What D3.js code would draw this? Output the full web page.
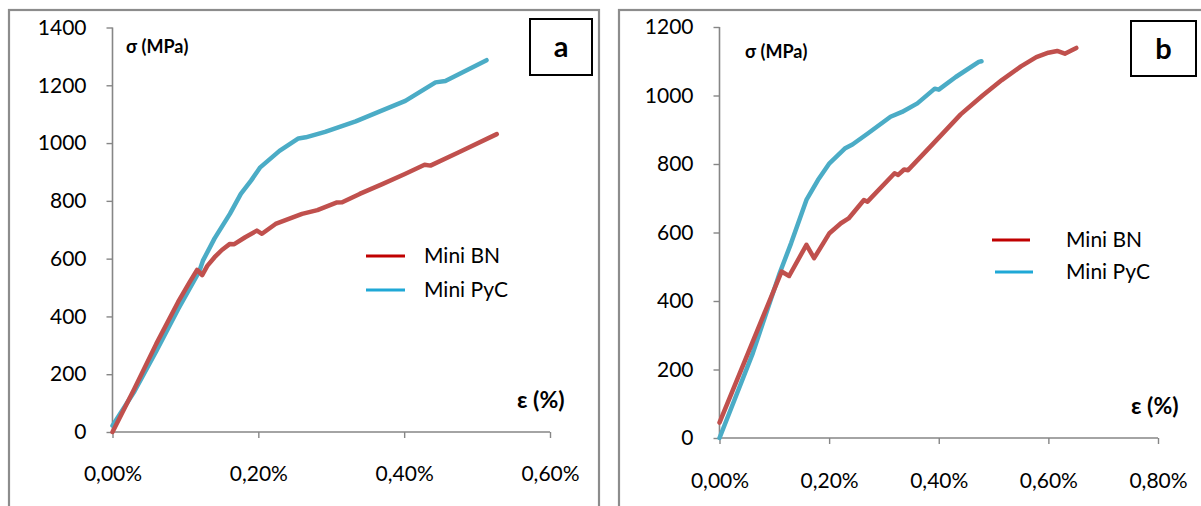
<!DOCTYPE html>
<html><head><meta charset="utf-8">
<script src="https://cdn.jsdelivr.net/npm/d3@7"></script>
<style>
html,body{margin:0;padding:0;background:#fff;}
svg{display:block;font-family:Lato,"Open Sans",sans-serif;}
</style></head>
<body>
<svg id="chart" width="1201" height="506"></svg>
<script>
// ---------- DATA ----------
const seriesNames = ["Mini BN", "Mini PyC"];
const yTicksA = [0, 200, 400, 600, 800, 1000, 1200, 1400];
const xTicksA = [0, 0.2, 0.4, 0.6];
const xTickLabelsA = ["0,00%", "0,20%", "0,40%", "0,60%"];
const yTicksB = [0, 200, 400, 600, 800, 1000, 1200];
const xTicksB = [0, 0.2, 0.4, 0.6, 0.8];
const xTickLabelsB = ["0,00%", "0,20%", "0,40%", "0,60%", "0,80%"];

// panel a  [strain %, stress MPa]
const aBN = [[0,0],[0.03,150],[0.06,305],[0.09,450],[0.105,515],[0.116,561],[0.123,543],[0.13,575],[0.14,605],[0.15,630],[0.161,651],[0.167,650],[0.182,674],[0.198,697],[0.205,686],[0.2236,720],[0.26,755],[0.281,768],[0.307,794],[0.315,795],[0.339,824],[0.37,858],[0.401,893],[0.428,925],[0.436,922],[0.475,968],[0.527,1031]];
const aPyC = [[0,22],[0.03,140],[0.06,280],[0.09,425],[0.1188,555],[0.124,593],[0.14,670],[0.161,755],[0.176,824],[0.19,870],[0.2026,916],[0.229,973],[0.255,1016],[0.265,1020],[0.2916,1039],[0.3335,1075],[0.365,1108],[0.4016,1146],[0.443,1210],[0.4565,1215],[0.513,1287]];
// panel b
const bBN = [[0,45],[0.1132,486],[0.127,473],[0.1586,564],[0.1726,525],[0.2006,598],[0.2215,627],[0.2355,641],[0.2635,695],[0.27,690],[0.3194,773],[0.326,768],[0.3368,784],[0.344,782],[0.389,858],[0.44,945],[0.48,1000],[0.515,1045],[0.55,1085],[0.578,1112],[0.6,1125],[0.616,1130],[0.63,1122],[0.651,1139]];
const bPyC = [[0,0],[0.0608,248],[0.1097,481],[0.1307,569],[0.1586,695],[0.1796,753],[0.2006,802],[0.2285,845],[0.2425,857],[0.2705,889],[0.312,938],[0.333,952],[0.361,977],[0.3927,1020],[0.40,1017],[0.431,1054],[0.473,1098],[0.478,1100]];

// ---------- STYLE ----------
const lineColors = ["#c0504d", "#4bacc6"];
const legendColors = ["#c00000", "#1fa8d6"];
const axisColor = "#868686";
const frameColor = "#8c8c8c";

const svg = d3.select("#chart");

const panels = [
  {frame:[9,10,590,520], xr:[112.5,550], yr:[432,27.5], xmax:0.6, ymax:1400,
   yTicks:yTicksA, xTicks:xTicksA, xLabels:xTickLabelsA, series:[aBN,aPyC],
   sigma:[126,53], eps:[517,408], box:[530,19,62,56], letter:"a",
   legend:{x1:366,x2:405,ys:[256,290],tx:424}, xLabelY:481},
  {frame:[619,10,600,520], xr:[719.5,1158], yr:[438,27], xmax:0.8, ymax:1200,
   yTicks:yTicksB, xTicks:xTicksB, xLabels:xTickLabelsB, series:[bBN,bPyC],
   sigma:[745,58], eps:[1131,414], box:[1131,21,65,55], letter:"b",
   legend:{x1:[992,995],x2:[1030,1033],ys:[240,272],tx:1066}, xLabelY:488}
];

panels.forEach(p => {
  const g = svg.append("g");
  g.append("rect").attr("x",p.frame[0]).attr("y",p.frame[1]).attr("width",p.frame[2]).attr("height",p.frame[3])
    .attr("fill","none").attr("stroke",frameColor).attr("stroke-width",2.2);

  const x = d3.scaleLinear().domain([0,p.xmax]).range(p.xr);
  const y = d3.scaleLinear().domain([0,p.ymax]).range(p.yr);

  // y axis
  const yAx = g.append("g").attr("transform",`translate(${p.xr[0]},0)`)
    .call(d3.axisLeft(y).tickValues(p.yTicks).tickSize(6).tickPadding(20).tickFormat(d3.format("d")));
  yAx.select(".domain").attr("stroke",axisColor).attr("stroke-width",1.6).attr("d",`M0,${p.yr[0]}V${p.yr[1]}`);
  yAx.selectAll(".tick line").attr("stroke",axisColor).attr("stroke-width",1.4);
  yAx.selectAll(".tick text").attr("fill","#000").style("font-size","21px").style("font-family","Lato, sans-serif");

  // x axis
  const xAx = g.append("g").attr("transform",`translate(0,${p.yr[0]})`)
    .call(d3.axisBottom(x).tickValues(p.xTicks).tickSize(6).tickFormat((d,i)=>p.xLabels[i]));
  xAx.select(".domain").attr("stroke",axisColor).attr("stroke-width",1.6).attr("d",`M${p.xr[0]},0H${p.xr[1]}`);
  xAx.selectAll(".tick line").attr("stroke",axisColor).attr("stroke-width",1.4);
  xAx.selectAll(".tick text").attr("fill","#000").attr("y",p.xLabelY - p.yr[0]).attr("dy","0")
    .style("font-size","21px").style("font-family","Lato, sans-serif");

  // series lines (PyC drawn first, BN on top as in the reference)
  const line = d3.line().x(d=>x(d[0])).y(d=>y(d[1])).curve(d3.curveLinear);
  [1,0].forEach(i => {
    g.append("path").datum(p.series[i]).attr("d",line).attr("fill","none")
      .attr("stroke",lineColors[i]).attr("stroke-width",4.5)
      .attr("stroke-linejoin","round").attr("stroke-linecap","round");
  });

  // axis titles
  g.append("text").attr("x",p.sigma[0]).attr("y",p.sigma[1]).text("σ (MPa)")
    .style("font-size","18px").style("font-weight","bold");
  g.append("text").attr("x",p.eps[0]).attr("y",p.eps[1]).text("ε (%)")
    .style("font-size","23px").style("font-weight","bold");

  // panel letter box
  g.append("rect").attr("x",p.box[0]).attr("y",p.box[1]).attr("width",p.box[2]).attr("height",p.box[3])
    .attr("fill","#fff").attr("stroke","#000").attr("stroke-width",2);
  g.append("text").attr("x",p.box[0]+p.box[2]/2).attr("y",p.box[1]+p.box[3]/2+10)
    .attr("text-anchor","middle").text(p.letter).style("font-size","29px").style("font-weight","bold");

  // legend
  seriesNames.forEach((n,i) => {
    const lx1 = Array.isArray(p.legend.x1) ? p.legend.x1[i] : p.legend.x1;
    const lx2 = Array.isArray(p.legend.x2) ? p.legend.x2[i] : p.legend.x2;
    g.append("line").attr("x1",lx1).attr("x2",lx2).attr("y1",p.legend.ys[i]).attr("y2",p.legend.ys[i])
      .attr("stroke",legendColors[i]).attr("stroke-width",3);
    g.append("text").attr("x",p.legend.tx).attr("y",p.legend.ys[i]+7).text(n).style("font-size","21px");
  });
});
</script>
</body></html>
